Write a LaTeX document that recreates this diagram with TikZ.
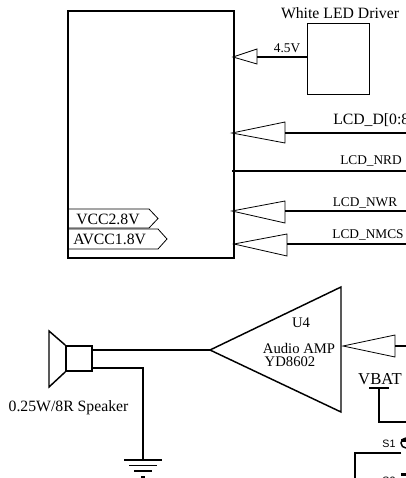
\documentclass[tikz,border=0pt]{standalone}
\usepackage{fontspec}
\setmainfont{Liberation Serif}
\setsansfont{Liberation Sans}
\usetikzlibrary{arrows.meta}

\tikzset{
    wire/.style={line width=1.1pt},
    buffer/.style={line width=0.6pt},
    tag/.style={line width=0.6pt},
    big text/.style={font=\fontsize{11.8}{13}\selectfont},
    mid text/.style={font=\fontsize{11}{13}\selectfont},
    small text/.style={font=\fontsize{10}{12}\selectfont},
    switch text/.style={font=\sffamily\fontsize{8}{9}\selectfont},
}

\begin{document}
\begin{tikzpicture}[x=0.75pt, y=-0.75pt]
    \useasboundingbox (0, 0) rectangle (406, 478);
    \clip (0, 0) rectangle (406, 478);
    % display connector
    \node[draw, line width=1.1pt, minimum width=124.5pt, minimum height=185.5pt, inner sep=0pt] (lcd) at (151, 134.5) {};
    \node[draw, line width=0.6pt, minimum width=46.5pt, minimum height=53.25pt, inner sep=0pt] (driver) at (338, 58.5) {};
    \node[big text] (drivername) at (340, 13) {White LED Driver};

    % buffers on the right edge
    \coordinate (b1tip) at (233, 57);
    \coordinate (b1a) at (257, 49);
    \coordinate (b1b) at (257, 64);
    \coordinate (b1m) at (257, 57);
    \draw[buffer] (b1tip) -- (b1a) -- (b1b) -- cycle;
    \draw[wire] (b1m) -- (driver.west |- b1m);
    \node[small text] (b1name) at (287, 48) {4.5V};

    \coordinate (b2tip) at (232, 133);
    \coordinate (b2a) at (285, 122);
    \coordinate (b2b) at (285, 143);
    \coordinate (b2m) at (285, 133);
    \coordinate (b2end) at (406, 133);
    \draw[buffer] (b2tip) -- (b2a) -- (b2b) -- cycle;
    \draw[wire] (b2m) -- (b2end);
    \node[big text, anchor=west, inner sep=0pt] (b2name) at (333, 120) {LCD\_D[0:8]};

    \coordinate (nrdstart) at (232, 171);
    \coordinate (nrdend) at (406, 171);
    \draw[wire] (nrdstart) -- (nrdend);
    \node[small text] (nrdname) at (371, 161) {LCD\_NRD};

    \coordinate (b3tip) at (232, 211);
    \coordinate (b3a) at (285, 201);
    \coordinate (b3b) at (285, 223);
    \coordinate (b3m) at (285, 211);
    \coordinate (b3end) at (406, 211);
    \draw[buffer] (b3tip) -- (b3a) -- (b3b) -- cycle;
    \draw[wire] (b3m) -- (b3end);
    \node[small text] (b3name) at (365, 203) {LCD\_NWR};

    \coordinate (b4tip) at (234, 244);
    \coordinate (b4a) at (287, 234);
    \coordinate (b4b) at (287, 256);
    \coordinate (b4m) at (287, 244);
    \coordinate (b4end) at (406, 244);
    \draw[buffer] (b4tip) -- (b4a) -- (b4b) -- cycle;
    \draw[wire] (b4m) -- (b4end);
    \node[small text] (b4name) at (368, 235) {LCD\_NMCS};

    % rail tags
    \coordinate (t1a) at (68, 209);
    \coordinate (t1b) at (149, 209);
    \coordinate (t1c) at (158, 218.5);
    \coordinate (t1d) at (149, 228);
    \coordinate (t1e) at (68, 228);
    \draw[tag] (t1a) -- (t1b) -- (t1c) -- (t1d) -- (t1e);
    \node[big text, anchor=west, inner sep=0pt] (t1name) at (76, 219) {VCC2.8V};
    \coordinate (t2a) at (68, 229);
    \coordinate (t2b) at (158, 229);
    \coordinate (t2c) at (167, 239);
    \coordinate (t2d) at (158, 249);
    \coordinate (t2e) at (68, 249);
    \draw[tag] (t2a) -- (t2b) -- (t2c) -- (t2d) -- (t2e);
    \node[big text, anchor=west, inner sep=0pt] (t2name) at (73, 239) {AVCC1.8V};

    % speaker
    \node[draw, line width=1.1pt, minimum width=19.5pt, minimum height=19pt, inner sep=0pt] (coil) at (79, 358.5) {};
    \coordinate (cone1) at (49, 331);
    \coordinate (cone2) at (49, 387);
    \draw[wire] (coil.north west) -- (cone1) -- (cone2) -- (coil.south west);
    \node[big text] (speakername) at (68.5, 408) {0.25W/8R Speaker};

    % amplifier
    \coordinate (ampin) at (210, 350);
    \coordinate (ampa) at (341, 287);
    \coordinate (ampb) at (341, 412);
    \draw[wire] (ampin) -- (ampa) -- (ampb) -- cycle;
    \node[mid text] (ampref) at (301, 323) {U4};
    \node[mid text] (ampname) at (299, 348) {Audio AMP};
    \node[mid text] (ampchip) at (290, 362) {YD8602};
    \draw[wire] (coil.east |- ampin) -- (ampin);

    % ground
    \coordinate (coilout) at (92, 368);
    \coordinate (gnd) at (143, 460);
    \coordinate (gnda) at (124, 460);
    \coordinate (gndb) at (162, 460);
    \coordinate (gndc) at (129, 465.5);
    \coordinate (gndd) at (157, 465.5);
    \coordinate (gnde) at (134, 471);
    \coordinate (gndf) at (152, 471);
    \coordinate (gndg) at (141, 477);
    \coordinate (gndh) at (145, 477);
    \draw[wire] (coilout) -| (gnd);
    \draw[wire] (gnda) -- (gndb);
    \draw[wire] (gndc) -- (gndd);
    \draw[wire] (gnde) -- (gndf);
    \draw[wire] (gndg) -- (gndh);

    % amp input buffer
    \coordinate (b5tip) at (343, 346);
    \coordinate (b5a) at (395, 335);
    \coordinate (b5b) at (395, 357);
    \coordinate (b5m) at (395, 346);
    \coordinate (b5end) at (406, 346);
    \draw[buffer] (b5tip) -- (b5a) -- (b5b) -- cycle;
    \draw[wire] (b5m) -- (b5end);

    % battery rail
    \node[font=\fontsize{12.5}{14}\selectfont] (vbat) at (380, 379) {VBAT};
    \coordinate (vbatbar) at (379, 388);
    \coordinate (vbatl) at (369, 388);
    \coordinate (vbatr) at (389, 388);
    \coordinate (vbatend) at (406, 422);
    \draw[wire] (vbatl) -- (vbatr);
    \draw[wire] (vbatbar) |- (vbatend);

    % switches
    \node[switch text] (s1name) at (389, 444) {S1};
    \node[switch text] (s2name) at (389, 481) {S2};
    \coordinate (s1) at (401, 453);
    \coordinate (s1drop) at (355, 478);
    \draw[wire] (s1) -| (s1drop);
    \draw[wire] (406, 448) arc (90:270:5);
    \fill (401, 439) rectangle (406, 442);
    \fill (401, 473) rectangle (406, 476);
\end{tikzpicture}
\end{document}
